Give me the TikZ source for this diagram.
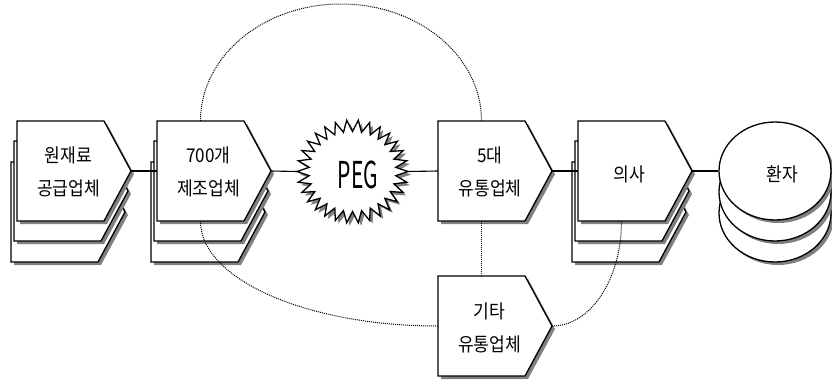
\documentclass[tikz,border=0pt]{standalone}
\usepackage{fontspec}
\newfontfamily\kr[FakeStretch=0.9]{Noto Sans CJK KR}
\newfontfamily\krpeg{Noto Sans CJK KR}
\usetikzlibrary{shadows,shapes.geometric,calc}
\tikzset{
  shad/.style={drop shadow={shadow xshift=3pt, shadow yshift=-3pt, fill=black!50, opacity=1}},
  pentpath/.style={draw=black, line width=1.3pt, fill=white, shad, line join=miter},
  boxrect/.style={rectangle, minimum width=87pt, minimum height=100pt, inner sep=0pt},
  lbl/.style={font=\kr\fontsize{19}{33}\selectfont, align=center, inner sep=0pt},
  disk/.style={ellipse, draw=black, line width=1.3pt, fill=white, shad, minimum width=112pt, minimum height=98pt, inner sep=0pt},
  link/.style={draw=black, line width=1.1pt},
  dots/.style={draw=black, line width=1pt, dash pattern=on 1pt off 1pt},
}
\newcommand\pentat[2]{\path[pentpath] (#1,#2) -- ++(87,0) -- ++(27,50) -- ++(-27,50) -- ++(-87,0) -- cycle;}
\begin{document}
\begin{tikzpicture}[x=1pt,y=-1pt]
\fill[white] (0,0) rectangle (832,383);
\useasboundingbox (0,0) rectangle (832,383);

% box 1 (stacked)
\pentat{11}{162}\pentat{14}{141}\pentat{17}{121}
\node[boxrect] (b1) at (60.5,171) {};
\coordinate (b1tip) at ($(b1.east)+(27,0)$);
\node[lbl] (b1t) at (68.5,172) {원재료\\공급업체};

% box 2 (stacked)
\pentat{151}{162}\pentat{154}{141}\pentat{157}{121}
\node[boxrect] (b2) at (200.5,171) {};
\coordinate (b2tip) at ($(b2.east)+(27,0)$);
\node[lbl] (b2t) at (208.5,172) {700개\\제조업체};

% PEG starburst
\path[draw=black, line width=1.3pt, fill=white, shad, line join=miter]
  (408,171.5) \foreach \k in {0,...,29} {
    -- ({352.5+43.5*cos(12*\k+6)},{171.5+40*sin(12*\k+6)})
    -- ({352.5+55.5*cos(12*\k+12)},{171.5+51.5*sin(12*\k+12)}) } -- cycle;
\node[ellipse, minimum width=111pt, minimum height=103pt, inner sep=0pt] (peg) at (352.5,171.5) {};
\node[font=\krpeg\fontsize{37}{37}\selectfont, inner sep=0pt] (pegt) at (358,175) {\scalebox{0.57}[1]{PEG}};

% box 3
\pentat{438}{121}
\node[boxrect] (b3) at (481.5,171) {};
\coordinate (b3tip) at ($(b3.east)+(27,0)$);
\node[lbl] (b3t) at (490,172) {5대\\유통업체};

% box 4 (stacked)
\pentat{572}{162}\pentat{575}{141}\pentat{578}{121}
\node[boxrect] (b4) at (621.5,171) {};
\coordinate (b4tip) at ($(b4.east)+(27,0)$);
\node[lbl] (b4t) at (629.5,174) {의사};

% box 5
\pentat{438}{276}
\node[boxrect] (b5) at (481.5,326) {};
\coordinate (b5tip) at ($(b5.east)+(27,0)$);
\node[lbl] (b5t) at (489.5,328) {기타\\유통업체};

% patients (stacked disks)
\node[disk] (patc) at (775,213) {};
\node[disk] (patb) at (775,192) {};
\node[disk] (pat) at (775,171) {};
\node[lbl] (patt) at (782,174) {환자};

% solid links
\draw[link] (b1tip) -- (b2.west);
\draw[link] (b2tip) -- (peg.west);
\draw[link] (peg.east) -- (b3.west);
\draw[link] (b3tip) -- (b4.west);
\draw[link] (b4tip) -- (pat.west);

% dotted links
\coordinate (arctop) at (341,4);
\draw[dots] (b2.north) .. controls +(0,-64.6) and +(-77.6,0) .. (arctop)
                       .. controls +(77.6,0) and +(0,-64.6) .. (b3.north);
\draw[dots] (b2.south) .. controls +(0,58) and +(-131.2,0) .. (b5.west);
\draw[dots] (b3.south) -- (b5.north);
\draw[dots] (b5tip) .. controls +(38.4,0) and +(0,58) .. (b4.south);
\end{tikzpicture}
\end{document}
